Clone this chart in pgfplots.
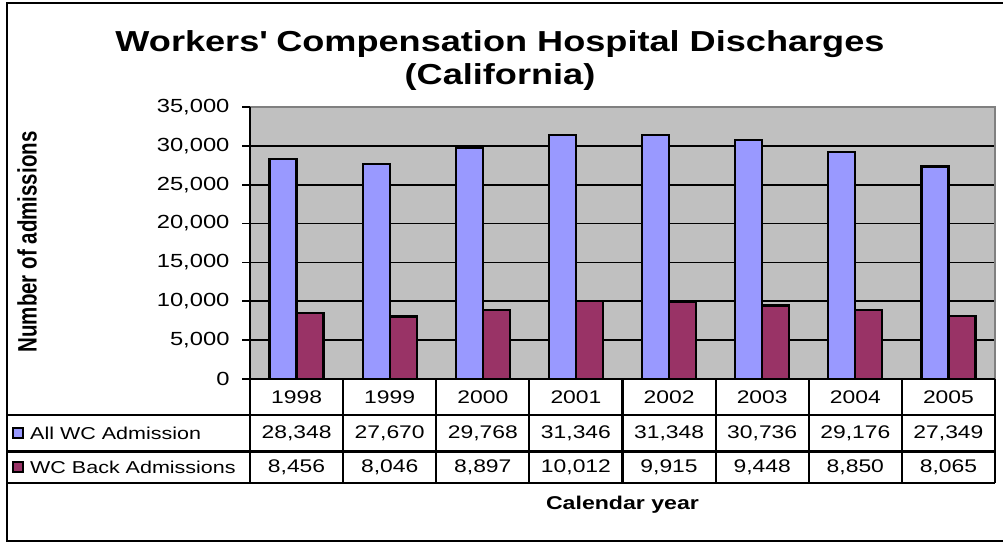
\documentclass[border=0pt]{standalone}
\usepackage{pgfplots}
\pgfplotsset{compat=1.18}
\usepackage{pgfplotstable}
\usepackage{fontspec}
\setmainfont{Liberation Sans}[FakeStretch=1.25]
\newfontfamily\plainfont{Liberation Sans}
\definecolor{barblue}{HTML}{9999FF}
\definecolor{barred}{HTML}{993366}
\definecolor{plotbg}{HTML}{C0C0C0}
\definecolor{framegray}{HTML}{808080}

\pgfplotstableread{
idx year all back
0 1998 28348 8456
1 1999 27670 8046
2 2000 29768 8897
3 2001 31346 10012
4 2002 31348 9915
5 2003 30736 9448
6 2004 29176 8850
7 2005 27349 8065
}\datatable

\begin{document}
\begin{tikzpicture}[x=1pt,y=1pt]
\useasboundingbox (0,0) rectangle (1003,544);
\begin{axis}[
  at={(250pt,165pt)}, anchor=south west,
  scale only axis, width=745pt, height=272pt,
  xmin=-0.5, xmax=7.5, ymin=0, ymax=35000,
  axis line style={draw=none},
  axis background/.style={fill=plotbg},
  ybar=0pt, bar width=27pt,
  xtick=\empty,
  ytick={0,5000,...,35000},
  ytick pos=left,
  ymajorgrids, major grid style={black, line width=1.7pt},
  tick align=outside, major tick length=8pt,
  ytick style={black, line width=1.7pt},
  yticklabel style={font=\fontsize{19}{22}\selectfont, xshift=-9pt},
  /pgf/number format/assume math mode=true,
  /pgf/number format/1000 sep={,},
  scaled y ticks=false,
  clip=false,
]
\addplot[fill=barblue, draw=black, line width=2.2pt] table[x=idx, y=all] {\datatable};
\addplot[fill=barred, draw=black, line width=2.2pt] table[x=idx, y=back] {\datatable};
\draw[framegray, line width=2pt] (rel axis cs:0,1) -- (rel axis cs:1,1) -- (rel axis cs:1,0);
\draw[black, line width=2pt] (rel axis cs:0,0) -- (rel axis cs:0,1);
\end{axis}

% outer chart border
\draw[line width=2.2pt] (1003,541) -- (7,541) -- (7,3) -- (1003,3);

% data table
\begin{scope}[line width=2.2pt]
\draw (250,165) -- (995,165);
\draw (7,129) -- (995,129);
\draw (7,92.5) -- (995,92.5);
\draw (7,61) -- (995,61);
\foreach \i in {0,...,8} \draw ({250+93.125*\i},165) -- ({250+93.125*\i},61);
\end{scope}
\begin{scope}[every node/.style={font=\fontsize{18.3}{22}\selectfont}]
\foreach \y [count=\i from 0] in {1998,1999,2000,2001,2002,2003,2004,2005}
  \node at ({250+93.125*(\i+0.5)},147) {\y};
\foreach \v [count=\i from 0] in {{28,348},{27,670},{29,768},{31,346},{31,348},{30,736},{29,176},{27,349}}
  \node at ({250+93.125*(\i+0.5)},111) {\v};
\foreach \v [count=\i from 0] in {{8,456},{8,046},{8,897},{10,012},{9,915},{9,448},{8,850},{8,065}}
  \node at ({250+93.125*(\i+0.5)},77) {\v};
\draw[fill=barblue, line width=1.5pt] (13,106) rectangle (23,116);
\draw[fill=barred, line width=1.5pt] (13,72) rectangle (23,82);
\node[anchor=west, inner sep=0pt, font=\fontsize{17.2}{22}\selectfont] at (30,111) {All WC Admission};
\node[anchor=west, inner sep=0pt, font=\fontsize{17.2}{22}\selectfont] at (30,77) {WC Back Admissions};
\node[font=\fontsize{18.5}{22}\selectfont\bfseries] at (622.5,39) {Calendar year};
\end{scope}

% titles
\node[align=center, font=\fontsize{28.9}{33}\selectfont\bfseries] at (500,483.5)
  {Workers\textquotesingle\ Compensation Hospital Discharges\\(California)};
\node[rotate=90] at (27,302)
  {\scalebox{1}[1.3]{\plainfont\bfseries\fontsize{20.5}{24}\selectfont Number of admissions}};
\end{tikzpicture}
\end{document}
